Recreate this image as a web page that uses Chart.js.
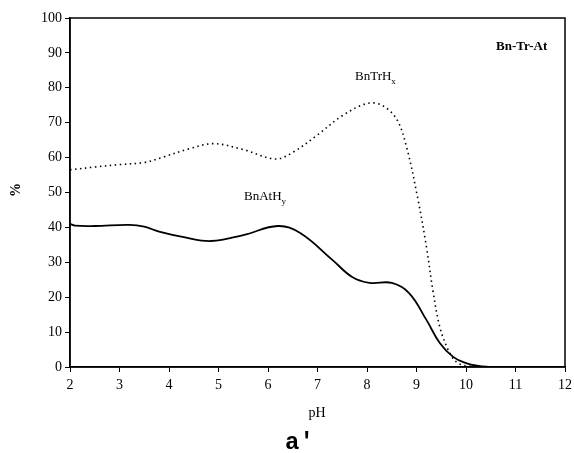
<!DOCTYPE html>
<html><head><meta charset="utf-8">
<script src="https://cdn.jsdelivr.net/npm/chart.js@4/dist/chart.umd.min.js"></script>
<style>html,body{margin:0;padding:0;background:#fff;}#wrap{width:574px;height:453px;position:relative;}</style>
</head><body><div id="wrap"><canvas id="c" width="574" height="453"></canvas></div>
<script>
const xTicks = [2,3,4,5,6,7,8,9,10,11,12];
const yTicks = [0,10,20,30,40,50,60,70,80,90,100];
const phTr = [2,2.5,3,3.5,3.85,4.4,4.9,5.5,6.15,6.5,7,7.5,8,8.3,8.6,8.8,9.03,9.2,9.33,9.47,9.64,9.8,10,10.5];
const valTr = [56.5,57.3,58,58.6,60,62.5,64,62.3,59.6,61.5,66.5,72,75.5,75,71,63,48,34.5,22,11.5,4.9,1.5,0.3,0];
const phAt = [2,2.1,2.5,3.2,3.5,3.8,4.3,4.85,5.5,6.2,6.65,7.3,7.7,8.05,8.5,8.85,9.2,9.47,9.74,10,10.25,10.5];
const valAt = [41,40.5,40.4,40.7,40.2,38.8,37.2,36.1,37.8,40.4,38.4,30.7,25.8,24.1,24.1,21.2,13.5,6.9,2.9,1.1,0.3,0];
const seriesNames = ['BnTrHx','BnAtHy'];

const toPts = (xs, ys) => xs.map((x,i)=>({x, y: ys[i]}));
const serif = '"Liberation Serif","Times New Roman",serif';

const textPlugin = {
  id:'texts',
  afterDraw(chart){
    const {ctx, chartArea:a} = chart;
    ctx.save();
    ctx.strokeStyle='#000'; ctx.lineWidth=1.5;
    ctx.strokeRect(a.left, a.top, a.right-a.left, a.bottom-a.top);
    ctx.fillStyle='#000';
    ctx.textBaseline='alphabetic';
    ctx.font = 'bold 13px '+serif; ctx.textAlign='left';
    ctx.fillText('Bn-Tr-At', 496, 50);
    const sub = (main, s, x, y) => {
      ctx.font = '13px '+serif; ctx.textAlign='left';
      ctx.fillText(main, x, y);
      const w = ctx.measureText(main).width;
      ctx.font = '9px '+serif;
      ctx.fillText(s, x+w, y+4);
    };
    sub('BnTrH','x', 355, 80);
    sub('BnAtH','y', 244, 200);
    ctx.font = '14px '+serif; ctx.textAlign='center';
    ctx.fillText('pH', 317, 417);
    ctx.save(); ctx.translate(20, 190); ctx.rotate(-Math.PI/2);
    ctx.font='bold 14px '+serif; ctx.fillText('%', 0, 0); ctx.restore();
    ctx.font = 'bold 24px "Liberation Mono","Courier New",monospace'; ctx.textAlign='left';
    ctx.fillText("a'", 285, 449);
    ctx.restore();
  }
};

new Chart(document.getElementById('c'), {
  type:'line',
  data:{datasets:[
    {label:seriesNames[0], data:toPts(phTr,valTr), borderColor:'#000', borderWidth:1.6, borderDash:[1.5,3.5], pointRadius:0, tension:0.35, fill:false},
    {label:seriesNames[1], data:toPts(phAt,valAt), borderColor:'#000', borderWidth:1.8, pointRadius:0, tension:0.4, fill:false}
  ]},
  options:{
    responsive:false, animation:false, devicePixelRatio:1,
    layout:{padding:{left:0,right:9,top:18,bottom:0}},
    plugins:{legend:{display:false}, tooltip:{enabled:false}},
    scales:{
      x:{type:'linear', min:2, max:12,
        afterBuildTicks(s){ s.ticks = xTicks.map(v=>({value:v})); },
        afterFit(s){ s.height = 86; s.paddingRight = 0; s.paddingLeft = 0; },
        grid:{drawOnChartArea:false, drawTicks:true, tickLength:5, color:'#000'},
        border:{color:'#000', width:1.5},
        ticks:{color:'#000', font:{family:serif, size:14}, padding:5, maxRotation:0}
      },
      y:{type:'linear', min:0, max:100,
        afterBuildTicks(s){ s.ticks = yTicks.map(v=>({value:v})); },
        afterFit(s){ s.width = 70; s.paddingTop = 0; s.paddingBottom = 0; },
        grid:{drawOnChartArea:false, drawTicks:true, tickLength:5, color:'#000'},
        border:{color:'#000', width:1.5},
        ticks:{color:'#000', font:{family:serif, size:14}, padding:3}
      }
    }
  },
  plugins:[textPlugin]
});
</script></body></html>
